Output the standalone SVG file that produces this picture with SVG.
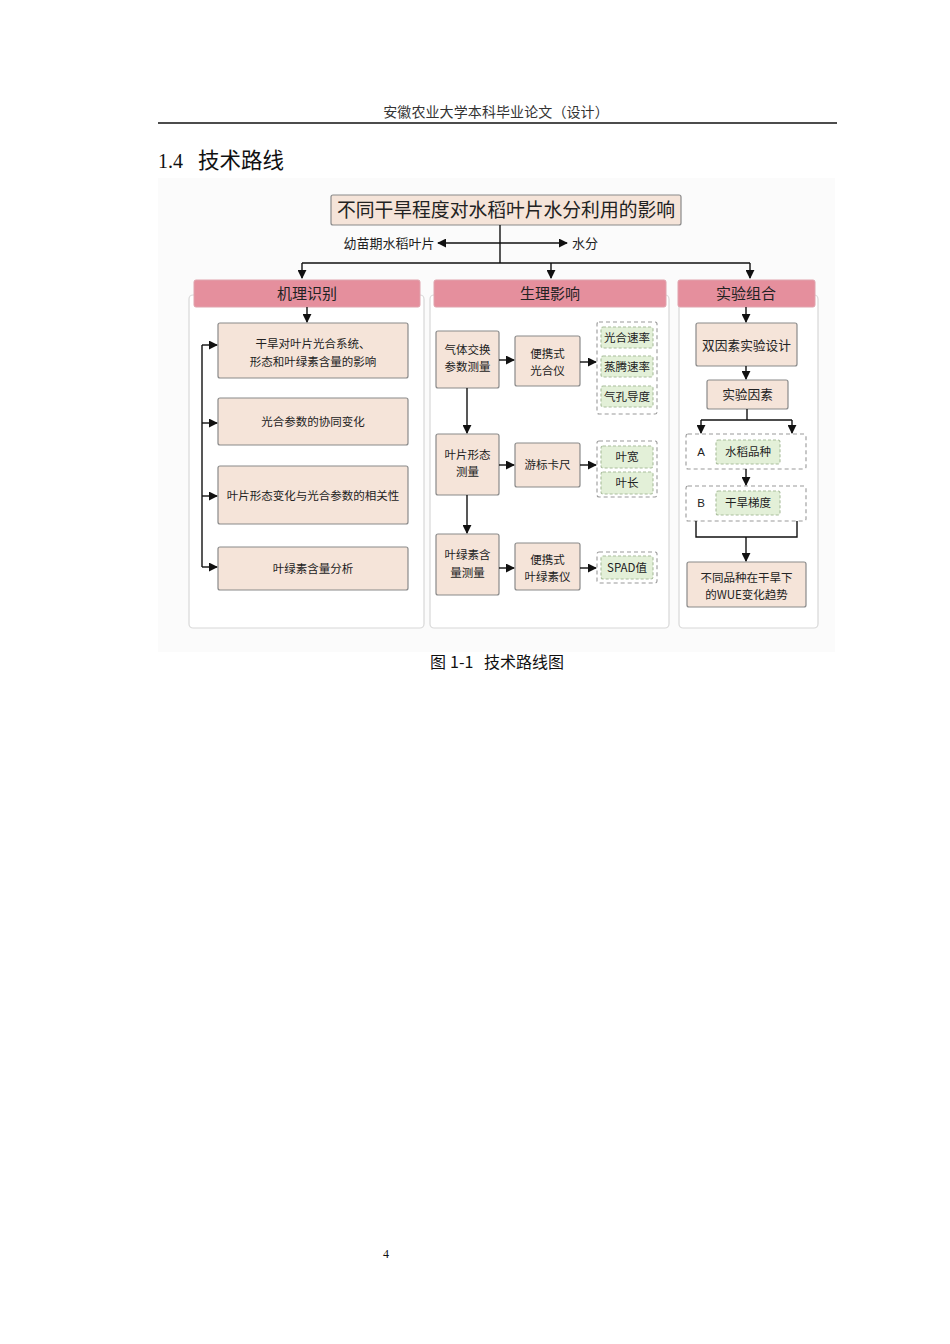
<svg xmlns="http://www.w3.org/2000/svg" width="950" height="1344" viewBox="0 0 950 1344">
<defs>
<marker id="ah" viewBox="0 0 10 10" refX="9" refY="5" markerWidth="9" markerHeight="9" markerUnits="userSpaceOnUse" orient="auto"><path d="M0,0 L10,5 L0,10 Z" fill="#111"/></marker>
<style>
.t{font-family:"Noto Sans CJK SC","Liberation Sans",sans-serif;fill:#222;text-anchor:middle}
.box{fill:#f5e4d9;stroke:#8a8a8a;stroke-width:1.2}
.hdr{fill:#e58f9d;stroke:#e0a3ad;stroke-width:1}
.panel{fill:#fff;stroke:#d8d8d8;stroke-width:1.2}
.grp{fill:#fff;stroke:#999;stroke-width:1.1;stroke-dasharray:4 3}
.grn{fill:#e3f0d8;stroke:#a9bd9c;stroke-width:1.1;stroke-dasharray:3 2}
.ln{fill:none;stroke:#111;stroke-width:1.4}
.ar{fill:none;stroke:#111;stroke-width:1.4;marker-end:url(#ah)}
</style>
</defs>
<rect width="950" height="1344" fill="#fff"/>
<text x="496" y="117" font-family="Liberation Serif,'Noto Sans CJK SC',serif" font-size="14" letter-spacing="0.1" text-anchor="middle" fill="#333">安徽农业大学本科毕业论文（设计）</text>
<line x1="158" y1="123" x2="837" y2="123" stroke="#111" stroke-width="1.3"/>
<text x="158" y="168" font-family="Liberation Serif,serif" font-size="20" fill="#111">1.4</text>
<text x="198" y="168" font-family="'Noto Sans CJK SC',sans-serif" font-size="21.5" fill="#111">技术路线</text>
<rect x="158" y="178" width="677" height="474" fill="#fbfbfb"/>
<g id="panels">
<rect class="panel" x="189" y="295" width="235" height="333" rx="4"/>
<rect class="panel" x="430" y="295" width="239" height="333" rx="4"/>
<rect class="panel" x="679" y="295" width="139" height="333" rx="4"/>
</g>
<g id="title"><rect class="box" x="331" y="195" width="350" height="30" rx="2"/><text class="t" x="506" y="217" font-size="18.8">不同干旱程度对水稻叶片水分利用的影响</text></g>
<g id="lbl1"><text class="t" x="389" y="248" font-size="13">幼苗期水稻叶片</text></g>
<g id="lbl2"><text class="t" x="585" y="248" font-size="13">水分</text></g>
<g id="h1"><rect class="hdr" x="194" y="280" width="226" height="27" rx="2"/><text class="t" x="307" y="299" font-size="15">机理识别</text></g>
<g id="h2"><rect class="hdr" x="434" y="280" width="232" height="27" rx="2"/><text class="t" x="550" y="299" font-size="15">生理影响</text></g>
<g id="h3"><rect class="hdr" x="678" y="280" width="137" height="27" rx="2"/><text class="t" x="746" y="299" font-size="15">实验组合</text></g>
<g id="l1"><rect class="box" x="218" y="323" width="190" height="55" rx="2"/><text class="t" x="313" y="348" font-size="11.5">干旱对叶片光合系统、</text><text class="t" x="313" y="366" font-size="11.5">形态和叶绿素含量的影响</text></g>
<g id="l2"><rect class="box" x="218" y="398" width="190" height="47" rx="2"/><text class="t" x="313" y="426" font-size="11.5">光合参数的协同变化</text></g>
<g id="l3"><rect class="box" x="218" y="466" width="190" height="58" rx="2"/><text class="t" x="313" y="500" font-size="11.5">叶片形态变化与光合参数的相关性</text></g>
<g id="l4"><rect class="box" x="218" y="547" width="190" height="43" rx="2"/><text class="t" x="313" y="573" font-size="11.5">叶绿素含量分析</text></g>
<g id="m1"><rect class="box" x="436" y="331" width="63" height="57" rx="2"/><text class="t" x="467.5" y="354" font-size="11.5">气体交换</text><text class="t" x="467.5" y="371" font-size="11.5">参数测量</text></g>
<g id="m2"><rect class="box" x="515" y="336" width="65" height="50" rx="2"/><text class="t" x="547.5" y="358" font-size="11.5">便携式</text><text class="t" x="547.5" y="375" font-size="11.5">光合仪</text></g>
<g id="g1"><rect class="grp" x="597" y="322" width="60" height="92" rx="2"/>
<rect class="grn" x="601" y="327" width="52" height="21" rx="2"/><text class="t" x="627" y="342" font-size="11.5">光合速率</text>
<rect class="grn" x="601" y="356" width="52" height="21" rx="2"/><text class="t" x="627" y="371" font-size="11.5">蒸腾速率</text>
<rect class="grn" x="601" y="386" width="52" height="21" rx="2"/><text class="t" x="627" y="401" font-size="11.5">气孔导度</text></g>
<g id="m3"><rect class="box" x="436" y="434" width="63" height="61" rx="2"/><text class="t" x="467.5" y="459" font-size="11.5">叶片形态</text><text class="t" x="467.5" y="476" font-size="11.5">测量</text></g>
<g id="m4"><rect class="box" x="515" y="443" width="65" height="44" rx="2"/><text class="t" x="547.5" y="469" font-size="11.5">游标卡尺</text></g>
<g id="g2"><rect class="grp" x="597" y="441" width="60" height="56" rx="2"/>
<rect class="grn" x="601" y="446" width="52" height="22" rx="2"/><text class="t" x="627" y="461" font-size="11.5">叶宽</text>
<rect class="grn" x="601" y="472" width="52" height="22" rx="2"/><text class="t" x="627" y="487" font-size="11.5">叶长</text></g>
<g id="m5"><rect class="box" x="436" y="534" width="63" height="61" rx="2"/><text class="t" x="467.5" y="559" font-size="11.5">叶绿素含</text><text class="t" x="467.5" y="577" font-size="11.5">量测量</text></g>
<g id="m6"><rect class="box" x="515" y="543" width="65" height="47" rx="2"/><text class="t" x="547.5" y="564" font-size="11.5">便携式</text><text class="t" x="547.5" y="581" font-size="11.5">叶绿素仪</text></g>
<g id="g3"><rect class="grp" x="597" y="552" width="60" height="31" rx="2"/>
<rect class="grn" x="601" y="556" width="52" height="23" rx="2"/><text class="t" x="627" y="572" font-size="11.5">SPAD值</text></g>
<g id="r1"><rect class="box" x="696" y="323" width="101" height="43" rx="2"/><text class="t" x="746.5" y="350" font-size="12.7">双因素实验设计</text></g>
<g id="r2"><rect class="box" x="707" y="380" width="81" height="29" rx="2"/><text class="t" x="747.5" y="399" font-size="12.7">实验因素</text></g>
<g id="rA"><rect class="grp" x="686" y="434" width="120" height="35" rx="2"/><text x="701" y="456" font-family="Liberation Sans,sans-serif" font-size="11.5" fill="#222" text-anchor="middle">A</text>
<rect class="grn" x="716" y="440" width="64" height="24" rx="2"/><text class="t" x="748" y="456" font-size="11.5">水稻品种</text></g>
<g id="rB"><rect class="grp" x="686" y="486" width="120" height="35" rx="2"/><text x="701" y="507" font-family="Liberation Sans,sans-serif" font-size="11.5" fill="#222" text-anchor="middle">B</text>
<rect class="grn" x="716" y="491" width="64" height="24" rx="2"/><text class="t" x="748" y="507" font-size="11.5">干旱梯度</text></g>
<g id="r3"><rect class="box" x="687" y="562" width="119" height="45" rx="2"/><text class="t" x="746.5" y="582" font-size="11.5">不同品种在干旱下</text><text class="t" x="746.5" y="599" font-size="11.5">的WUE变化趋势</text></g>
<g id="connectors">
<line class="ln" x1="500" y1="225" x2="500" y2="263"/>
<line class="ar" x1="500" y1="243" x2="438" y2="243"/>
<line class="ar" x1="500" y1="243" x2="567" y2="243"/>
<line class="ln" x1="302" y1="263" x2="750" y2="263"/>
<line class="ar" x1="302" y1="263" x2="302" y2="278"/>
<line class="ar" x1="551" y1="263" x2="551" y2="278"/>
<line class="ar" x1="750" y1="263" x2="750" y2="278"/>
<line class="ar" x1="307" y1="307" x2="307" y2="322"/>
<line class="ln" x1="202" y1="345" x2="202" y2="567"/>
<line class="ar" x1="202" y1="345" x2="217" y2="345"/>
<line class="ar" x1="202" y1="423" x2="217" y2="423"/>
<line class="ar" x1="202" y1="496" x2="217" y2="496"/>
<line class="ar" x1="202" y1="567" x2="217" y2="567"/>
<line class="ar" x1="499" y1="360" x2="514" y2="360"/>
<line class="ar" x1="580" y1="362" x2="596" y2="362"/>
<line class="ar" x1="467" y1="388" x2="467" y2="433"/>
<line class="ar" x1="499" y1="465" x2="514" y2="465"/>
<line class="ar" x1="580" y1="465" x2="596" y2="465"/>
<line class="ar" x1="467" y1="495" x2="467" y2="533"/>
<line class="ar" x1="499" y1="568" x2="514" y2="568"/>
<line class="ar" x1="580" y1="568" x2="596" y2="568"/>
<line class="ar" x1="746" y1="307" x2="746" y2="322"/>
<line class="ar" x1="746" y1="366" x2="746" y2="379"/>
<line class="ln" x1="747" y1="409" x2="747" y2="420"/>
<line class="ln" x1="701" y1="420" x2="792" y2="420"/>
<line class="ar" x1="701" y1="420" x2="701" y2="433"/>
<line class="ar" x1="792" y1="420" x2="792" y2="433"/>
<line class="ar" x1="746" y1="469" x2="746" y2="485"/>
<polyline class="ln" points="696,521 696,537 797,537 797,521"/>
<line class="ar" x1="746" y1="537" x2="746" y2="561"/>
</g>
<text y="668" font-family="'Noto Sans CJK SC',sans-serif" font-size="16" fill="#111"><tspan x="430">图</tspan><tspan x="450">1-1</tspan><tspan x="484">技术路线图</tspan></text>
<text x="386" y="1258" font-family="Liberation Serif,serif" font-size="12" text-anchor="middle" fill="#111">4</text>
</svg>
